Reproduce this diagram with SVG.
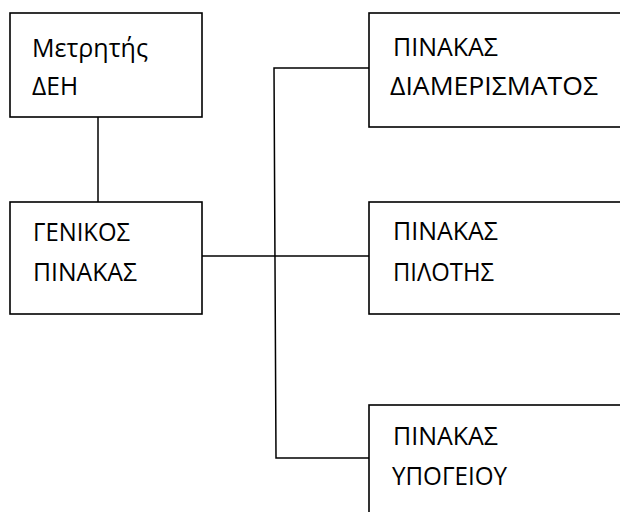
<svg xmlns="http://www.w3.org/2000/svg" width="620" height="512" viewBox="0 0 620 512">
  <style>
    .box { fill: #ffffff; stroke: #000000; stroke-width: 1.6; }
    .wire { fill: none; stroke: #000000; stroke-width: 1.5; }
    .lbl { font-family: "Open Sans", "Liberation Sans", sans-serif; font-size: 25px; fill: #000000; }
  </style>
  <rect width="620" height="512" fill="#ffffff"/>

  <g id="connectors">
    <line class="wire" x1="98" y1="117" x2="98" y2="202"/>
    <line class="wire" x1="202" y1="256" x2="369" y2="256"/>
    <polyline class="wire" points="369,68 274,68 276,458 369,458"/>
  </g>

  <g id="meter">
    <rect class="box" x="10" y="13" width="192" height="104"/>
    <text class="lbl" x="32" y="57" textLength="116" lengthAdjust="spacingAndGlyphs">Μετρητής</text>
    <text class="lbl" x="32" y="95" textLength="46" lengthAdjust="spacingAndGlyphs">ΔΕΗ</text>
  </g>

  <g id="main-panel">
    <rect class="box" x="10" y="202" width="192" height="112"/>
    <text class="lbl" x="33" y="241" textLength="97" lengthAdjust="spacingAndGlyphs">ΓΕΝΙΚΟΣ</text>
    <text class="lbl" x="33" y="281" textLength="104" lengthAdjust="spacingAndGlyphs">ΠΙΝΑΚΑΣ</text>
  </g>

  <g id="apartment-panel">
    <rect class="box" x="369" y="13" width="260" height="114"/>
    <text class="lbl" x="393" y="56" textLength="105" lengthAdjust="spacingAndGlyphs">ΠΙΝΑΚΑΣ</text>
    <text class="lbl" x="390" y="95" textLength="208" lengthAdjust="spacingAndGlyphs">ΔΙΑΜΕΡΙΣΜΑΤΟΣ</text>
  </g>

  <g id="pilotis-panel">
    <rect class="box" x="369" y="202" width="260" height="112"/>
    <text class="lbl" x="393" y="240" textLength="105" lengthAdjust="spacingAndGlyphs">ΠΙΝΑΚΑΣ</text>
    <text class="lbl" x="393" y="281" textLength="101" lengthAdjust="spacingAndGlyphs">ΠΙΛΟΤΗΣ</text>
  </g>

  <g id="basement-panel">
    <rect class="box" x="369" y="405" width="260" height="120"/>
    <text class="lbl" x="393" y="445" textLength="105" lengthAdjust="spacingAndGlyphs">ΠΙΝΑΚΑΣ</text>
    <text class="lbl" x="392" y="485" textLength="115" lengthAdjust="spacingAndGlyphs">ΥΠΟΓΕΙΟΥ</text>
  </g>
</svg>
